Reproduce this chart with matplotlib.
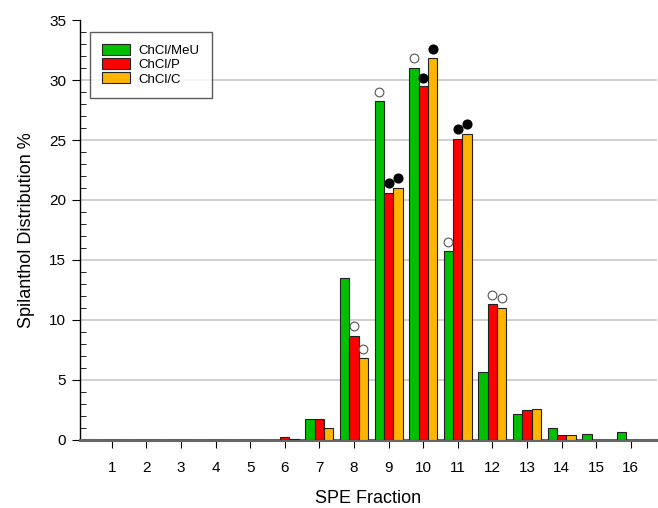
import numpy as np
import matplotlib
matplotlib.use("Agg")
import matplotlib.pyplot as plt
from matplotlib.ticker import MultipleLocator

plt.rcParams['font.family'] = ['Liberation Sans', 'DejaVu Sans']

fractions = np.arange(1, 17)
series = ["ChCl/MeU", "ChCl/P", "ChCl/C"]
colors = ["#00C000", "#FF0000", "#FFB400"]

meu = [0, 0, 0, 0, 0, 0, 1.72, 13.5, 28.25, 31.0, 15.75, 5.64, 2.14, 0.97, 0.47, 0.69]
pro = [0, 0, 0, 0, 0, 0.22, 1.72, 8.7, 20.6, 29.5, 25.1, 11.3, 2.47, 0.39, 0, 0]
cit = [0, 0, 0, 0, 0, 0.05, 0.97, 6.8, 21.0, 31.86, 25.5, 10.97, 2.56, 0.39, 0, 0]
values = [meu, pro, cit]

# significance markers: (fraction, series index, y, filled)
mark_frac = [8, 8, 9, 9, 9, 10, 10, 10, 11, 11, 11, 12, 12]
mark_ser = [1, 2, 0, 1, 2, 0, 1, 2, 0, 1, 2, 1, 2]
mark_y = [9.5, 7.6, 29.0, 21.4, 21.8, 31.8, 30.2, 32.6, 16.5, 25.9, 26.3, 12.1, 11.8]
mark_filled = [False, False, False, True, True, False, True, True, False, True, True, False, False]

fig = plt.figure(figsize=(6.58, 5.08), dpi=100)
ax = fig.add_axes([0.1216, 0.1339, 0.877, 0.8267])

w = 0.27
for i, (vals, c, name) in enumerate(zip(values, colors, series)):
    ax.bar(fractions + (i - 1) * w, vals, width=w, color=c, edgecolor="#222222",
           linewidth=0.8, label=name, zorder=3)

for f, s, y, filled in zip(mark_frac, mark_ser, mark_y, mark_filled):
    x = f + (s - 1) * w
    if filled:
        ax.plot(x, y, 'o', ms=6.3, mfc='black', mec='black', zorder=4)
    else:
        ax.plot(x, y, 'o', ms=6.3, mfc='white', mec='#555555', mew=0.8, zorder=4)

ax.set_xlim(0.08, 16.76)
ax.set_ylim(0, 35)
ax.yaxis.set_major_locator(MultipleLocator(5))
ax.yaxis.set_minor_locator(MultipleLocator(1))
ax.set_xticks(fractions)
ax.set_xticklabels([str(f) for f in fractions])
ax.tick_params(axis='y', which='major', direction='out', length=6, labelsize=11, pad=4)
ax.tick_params(axis='y', which='minor', direction='in', length=4)
ax.tick_params(axis='x', direction='out', length=6, labelsize=11, pad=9)

for y in range(5, 35, 5):
    ax.axhline(y, color="#c8c8c8", lw=1.2, zorder=1)

ax.spines['top'].set_visible(False)
ax.spines['right'].set_visible(False)
ax.spines['bottom'].set_color('#666666')
ax.spines['bottom'].set_linewidth(2.2)
ax.spines['left'].set_linewidth(1.0)

ax.set_xlabel("SPE Fraction", fontsize=13, labelpad=11)
ax.set_ylabel("Spilanthol Distribution %", fontsize=13, labelpad=10)

leg = ax.legend(loc='upper left', bbox_to_anchor=(0.017, 0.972), fontsize=9.5,
                frameon=True, fancybox=False, edgecolor='#333333', borderpad=0.95,
                handlelength=2.1, handleheight=0.9, labelspacing=0.08, handletextpad=0.6,
                borderaxespad=0)
leg.get_frame().set_linewidth(1.0)

fig.savefig("out.png", dpi=100)
